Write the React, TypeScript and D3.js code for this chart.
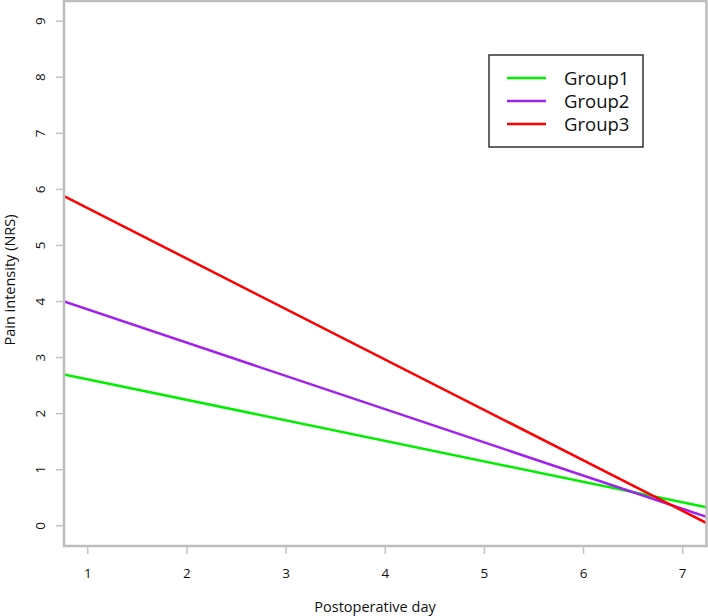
import React from "react";
import * as d3 from "d3";

// Data: fitted lines, value at the left and right edges of the x-range
const groups = ["Group1", "Group2", "Group3"];
const colors = ["#00ee00", "#a020f0", "#ff0000"];
const xEnds = [0.76, 7.24];
const startValues = [2.7, 4.0, 5.88];
const endValues = [0.33, 0.16, 0.05];
const xTicks = [1, 2, 3, 4, 5, 6, 7];
const yTicks = [0, 1, 2, 3, 4, 5, 6, 7, 8, 9];
const xTitle = "Postoperative day";
const yTitle = "Pain intensity (NRS)";

const W = 708;
const H = 616;
const left = 64;
const right = 706.5;
const top = 1;
const bottom = 546;
const FONT = "'Open Sans', sans-serif";

export default function App() {
  const x = d3.scaleLinear().domain([0.76, 7.24]).range([left, right]);
  const y = d3.scaleLinear().domain([-0.36, 9.36]).range([bottom, top]);
  const line = d3
    .line<[number, number]>()
    .x((d) => x(d[0]))
    .y((d) => y(d[1]));

  const legX = 489;
  const legY = 55;
  const legW = 154;
  const legH = 92;
  const rowY = [78, 101, 124];

  return (
    <svg
      width={W}
      height={H}
      style={{ position: "absolute", left: 0, top: 0, background: "#fff" }}
      fontFamily={FONT}
    >
      <defs>
        <clipPath id="plotclip">
          <rect x={left} y={top} width={right - left} height={bottom - top} />
        </clipPath>
      </defs>
      {/* lines */}
      <g clipPath="url(#plotclip)">
        {groups.map((g, i) => (
          <path
            key={g}
            d={line([
              [xEnds[0], startValues[i]],
              [xEnds[1], endValues[i]],
            ])!}
            stroke={colors[i]}
            strokeWidth={2.5}
            fill="none"
          />
        ))}
      </g>
      {/* box */}
      <rect
        x={left}
        y={top}
        width={right - left}
        height={bottom - top}
        fill="none"
        stroke="#bdbdbd"
        strokeWidth={2.5}
      />
      {/* y ticks */}
      {yTicks.map((t) => (
        <g key={"y" + t}>
          <line x1={left - 8} x2={left} y1={y(t)} y2={y(t)} stroke="#c4c4c4" strokeWidth={1.5} />
          <text
            transform={`translate(${44.5},${y(t)}) rotate(-90)`}
            textAnchor="middle"
            fontSize={13.5}
            fill="#111"
          >
            {t}
          </text>
        </g>
      ))}
      {/* x ticks */}
      {xTicks.map((t) => (
        <g key={"x" + t}>
          <line x1={x(t)} x2={x(t)} y1={bottom} y2={bottom + 8} stroke="#c4c4c4" strokeWidth={1.5} />
          <text x={x(t)} y={578} textAnchor="middle" fontSize={13.5} fill="#111">
            {t}
          </text>
        </g>
      ))}
      {/* axis titles */}
      <text x={375} y={612} textAnchor="middle" fontSize={14.5} fill="#111">
        {xTitle}
      </text>
      <text
        transform={`translate(${15},${280}) rotate(-90)`}
        textAnchor="middle"
        fontSize={14.5}
        fill="#111"
      >
        {yTitle}
      </text>
      {/* legend */}
      <rect x={legX} y={legY} width={legW} height={legH} fill="#fff" stroke="#333" strokeWidth={1.5} />
      {groups.map((g, i) => (
        <g key={"l" + g}>
          <line x1={507} x2={546} y1={rowY[i]} y2={rowY[i]} stroke={colors[i]} strokeWidth={2.5} />
          <text x={564} y={rowY[i] + 6.5} fontSize={18.5} fill="#111">
            {g}
          </text>
        </g>
      ))}
    </svg>
  );
}
